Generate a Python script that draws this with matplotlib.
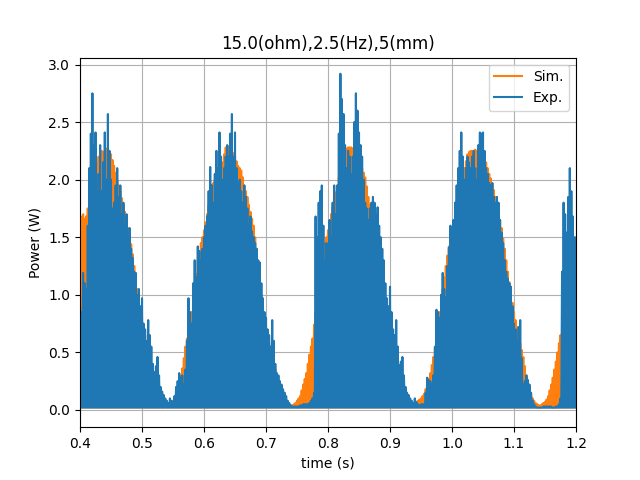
import numpy as np
import matplotlib.pyplot as plt

# time span shown (s)
t_start = 0.4
t_end = 1.2

# peak power of each oscillation (W), read every 5 ms from 0.400 s to 1.200 s
sim_peaks = [
    1.65, 1.70, 1.68, 1.85, 2.00, 2.10, 2.20, 2.25, 2.25, 2.26, 2.22, 2.12, 2.00, 1.90, 1.78, 1.65, 1.52, 1.35, 1.15, 0.95,
    0.80, 0.65, 0.50, 0.38, 0.25, 0.15, 0.10, 0.06, 0.04, 0.06, 0.08, 0.14, 0.25, 0.36, 0.55, 0.70, 0.85, 1.05, 1.30, 1.45,
    1.56, 1.70, 1.85, 1.97, 2.02, 2.07, 2.15, 2.28, 2.28, 2.25, 2.20, 2.12, 2.08, 1.95, 1.85, 1.72, 1.60, 1.39, 1.10, 0.90,
    0.72, 0.58, 0.45, 0.35, 0.25, 0.18, 0.10, 0.06, 0.04, 0.05, 0.08, 0.12, 0.22, 0.32, 0.48, 0.62, 0.85, 1.10, 1.30, 1.45,
    1.56, 1.70, 1.82, 1.95, 2.10, 2.20, 2.27, 2.28, 2.27, 2.22, 2.15, 2.10, 2.02, 1.85, 1.70, 1.55, 1.40, 1.25, 1.05, 0.88,
    0.75, 0.60, 0.45, 0.33, 0.22, 0.14, 0.08, 0.05, 0.06, 0.08, 0.10, 0.14, 0.22, 0.32, 0.46, 0.62, 0.85, 1.05, 1.25, 1.42,
    1.55, 1.70, 1.85, 2.00, 2.10, 2.22, 2.25, 2.25, 2.25, 2.22, 2.18, 2.15, 2.05, 1.97, 1.85, 1.72, 1.58, 1.40, 1.20, 1.02,
    0.85, 0.72, 0.58, 0.46, 0.30, 0.18, 0.10, 0.06, 0.04, 0.05, 0.07, 0.12, 0.22, 0.35, 0.50, 0.65, 0.80, 1.00, 1.20, 1.35,
    1.50,
]
# the peaks that fall half way, at 0.4025 s, 0.4075 s, ... 1.1975 s
sim_mid = [
    1.68, 1.66, 1.75, 1.92, 2.05, 2.15, 2.22, 2.24, 2.27, 2.24, 2.17, 2.06, 1.95, 1.84, 1.72, 1.58, 1.44, 1.25, 1.05, 0.88,
    0.72, 0.58, 0.44, 0.31, 0.20, 0.12, 0.08, 0.05, 0.05, 0.07, 0.11, 0.19, 0.30, 0.45, 0.62, 0.78, 0.95, 1.18, 1.38, 1.50,
    1.63, 1.78, 1.92, 2.00, 2.05, 2.11, 2.22, 2.29, 2.26, 2.23, 2.16, 2.10, 2.02, 1.90, 1.78, 1.66, 1.50, 1.25, 1.00, 0.80,
    0.65, 0.52, 0.40, 0.30, 0.21, 0.14, 0.08, 0.05, 0.04, 0.06, 0.10, 0.17, 0.27, 0.40, 0.55, 0.74, 0.98, 1.20, 1.38, 1.50,
    1.63, 1.76, 1.89, 2.02, 2.15, 2.24, 2.28, 2.28, 2.25, 2.18, 2.12, 2.06, 1.94, 1.78, 1.62, 1.48, 1.32, 1.15, 0.96, 0.82,
    0.68, 0.52, 0.39, 0.27, 0.18, 0.11, 0.06, 0.05, 0.07, 0.09, 0.12, 0.18, 0.27, 0.39, 0.54, 0.74, 0.95, 1.15, 1.34, 1.48,
    1.62, 1.78, 1.92, 2.05, 2.16, 2.24, 2.25, 2.26, 2.24, 2.20, 2.16, 2.10, 2.01, 1.91, 1.78, 1.65, 1.49, 1.30, 1.11, 0.93,
    0.78, 0.65, 0.52, 0.38, 0.24, 0.14, 0.08, 0.05, 0.04, 0.06, 0.09, 0.17, 0.28, 0.42, 0.58, 0.72, 0.90, 1.10, 1.28, 1.42,
]
exp_peaks = [
    1.00, 1.19, 1.05, 2.10, 2.75, 2.41, 2.05, 1.90, 2.41, 2.57, 2.00, 1.80, 2.10, 1.95, 1.80, 1.70, 1.58, 1.32, 1.19, 1.05,
    0.97, 0.70, 0.78, 0.55, 0.33, 0.46, 0.20, 0.13, 0.08, 0.10, 0.07, 0.20, 0.32, 0.30, 0.35, 0.97, 0.75, 1.30, 1.42, 1.30,
    1.50, 1.68, 2.11, 1.80, 2.25, 2.41, 2.00, 2.20, 2.20, 2.57, 2.41, 1.97, 1.90, 1.95, 1.75, 1.68, 1.50, 1.40, 1.28, 0.97,
    0.80, 0.65, 0.78, 0.40, 0.30, 0.22, 0.15, 0.08, 0.04, 0.03, 0.03, 0.04, 0.05, 0.05, 0.06, 0.10, 1.68, 1.80, 1.95, 1.30,
    1.40, 1.50, 1.95, 1.95, 2.92, 2.57, 2.10, 2.20, 2.20, 2.75, 2.41, 2.20, 1.80, 1.65, 1.80, 1.80, 1.76, 1.50, 1.30, 0.97,
    1.07, 0.70, 0.78, 0.39, 0.46, 0.20, 0.13, 0.08, 0.10, 0.05, 0.05, 0.05, 0.28, 0.25, 0.30, 0.87, 0.80, 1.19, 0.98, 1.41,
    1.50, 1.80, 2.10, 2.41, 2.00, 2.20, 2.10, 2.25, 2.00, 2.41, 2.41, 2.10, 1.97, 1.97, 1.80, 1.80, 1.54, 1.30, 1.14, 1.07,
    0.75, 0.60, 0.78, 0.22, 0.30, 0.22, 0.08, 0.03, 0.02, 0.02, 0.03, 0.03, 0.03, 0.02, 0.03, 0.10, 1.80, 1.54, 2.10, 1.68,
    1.30,
]
exp_mid = [
    0.85, 1.10, 1.60, 2.40, 2.30, 1.90, 2.30, 2.15, 2.00, 2.25, 1.75, 1.95, 1.85, 1.70, 1.60, 1.50, 1.40, 1.20, 1.00, 0.90,
    0.75, 0.60, 0.65, 0.40, 0.38, 0.30, 0.16, 0.10, 0.06, 0.08, 0.12, 0.25, 0.28, 0.22, 0.60, 0.85, 1.10, 1.15, 1.38, 1.40,
    1.60, 1.90, 1.95, 2.05, 2.10, 2.20, 2.10, 2.30, 2.40, 2.20, 2.10, 2.00, 1.80, 1.85, 1.60, 1.55, 1.45, 1.30, 1.10, 0.85,
    0.70, 0.55, 0.60, 0.32, 0.25, 0.18, 0.12, 0.06, 0.03, 0.03, 0.03, 0.04, 0.05, 0.05, 0.08, 0.15, 1.50, 1.90, 1.60, 1.45,
    1.65, 1.80, 1.70, 2.40, 2.70, 2.30, 2.25, 2.05, 2.50, 2.60, 2.30, 2.00, 1.75, 1.75, 1.85, 1.70, 1.60, 1.40, 1.10, 0.90,
    0.85, 0.65, 0.55, 0.42, 0.30, 0.15, 0.10, 0.06, 0.07, 0.04, 0.05, 0.15, 0.26, 0.22, 0.55, 0.85, 1.00, 1.05, 1.25, 1.60,
    1.65, 1.95, 2.25, 2.20, 2.10, 2.15, 2.20, 2.10, 2.30, 2.40, 2.25, 2.05, 1.95, 1.85, 1.85, 1.65, 1.45, 1.20, 1.10, 0.90,
    0.70, 0.72, 0.45, 0.25, 0.26, 0.15, 0.05, 0.02, 0.02, 0.03, 0.03, 0.03, 0.02, 0.03, 0.05, 1.20, 1.70, 1.85, 1.90, 1.50,
]
# the minima between spikes sit close to zero
sim_floor = 0.02
exp_floor = 0.02


def spikes(peaks, mid, floor):
    tops = np.empty(len(peaks) + len(mid))
    tops[0::2] = peaks
    tops[1::2] = mid
    y = np.full(2 * len(tops) - 1, floor)
    y[0::2] = tops
    return y


sim = spikes(sim_peaks, sim_mid, sim_floor)
exp = spikes(exp_peaks, exp_mid, exp_floor)
t = np.linspace(t_start, t_end, len(sim))

plt.figure(figsize=(6.4, 4.8), dpi=100)
plt.plot(t, sim, color='tab:orange', label='Sim.')
plt.plot(t, exp, color='tab:blue', label='Exp.')
plt.xlim(t_start, t_end)
plt.ylim(-0.15, 3.06)
plt.xlabel('time (s)')
plt.ylabel('Power (W)')
plt.title('15.0(ohm),2.5(Hz),5(mm)')
plt.legend(loc='upper right')
plt.grid(True)
plt.savefig('out.png')
